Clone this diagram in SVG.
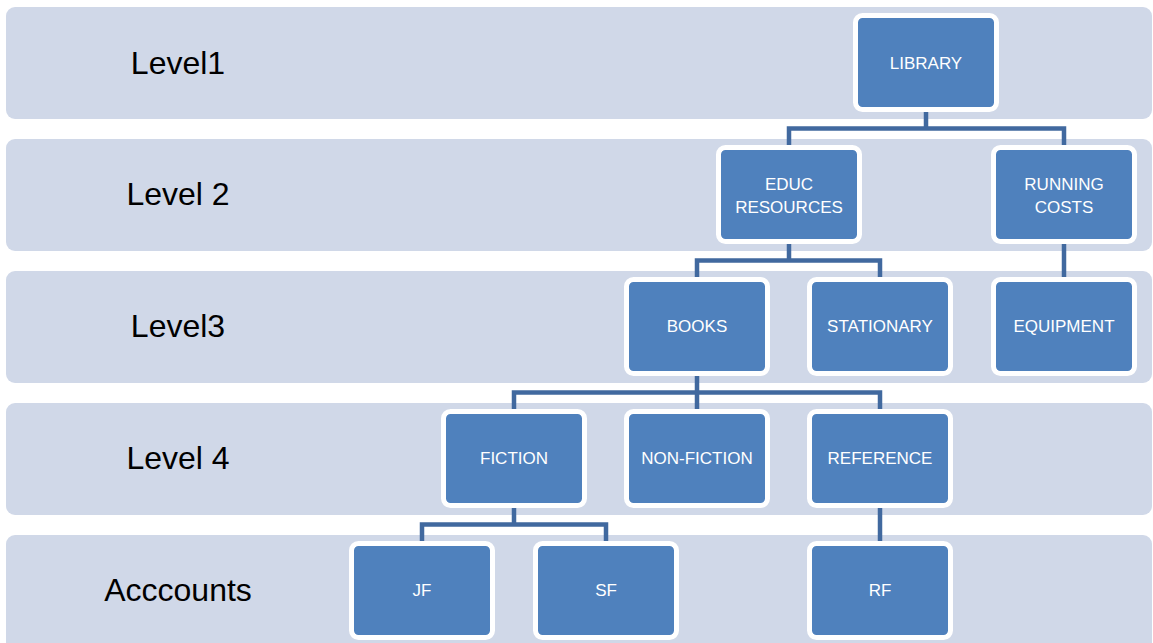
<svg xmlns="http://www.w3.org/2000/svg" width="1153" height="643" viewBox="0 0 1153 643">
<style>
.band{fill:#d0d8e8}
.lvl{font-family:"Liberation Sans",Arial,sans-serif;font-size:32px;fill:#000;text-anchor:middle}
.node rect{fill:#4f81bd;stroke:#fff;stroke-width:5}
.node text{font-family:"Liberation Sans",Arial,sans-serif;font-size:17px;fill:#fff;text-anchor:middle}
.conn{fill:none;stroke:#41699f;stroke-width:4.5;stroke-linejoin:miter;stroke-linecap:butt}
</style>
<rect width="1153" height="643" fill="#fff"/>
<g id="bands">
<rect class="band" x="6" y="7" width="1146" height="112" rx="9"/>
<rect class="band" x="6" y="139" width="1146" height="112" rx="9"/>
<rect class="band" x="6" y="271" width="1146" height="112" rx="9"/>
<rect class="band" x="6" y="403" width="1146" height="112" rx="9"/>
<rect class="band" x="6" y="535" width="1146" height="118" rx="9"/>
<text class="lvl" x="178" y="74">Level1</text>
<text class="lvl" x="178" y="205">Level 2</text>
<text class="lvl" x="178" y="337">Level3</text>
<text class="lvl" x="178" y="469">Level 4</text>
<text class="lvl" x="178" y="601">Acccounts</text>
</g>
<g id="connectors">
<path class="conn" d="M926 112V128.5M789 145V128.5H1064V145"/>
<path class="conn" d="M789 244V260.5M697 277V260.5H880V277"/>
<path class="conn" d="M1064 244V277"/>
<path class="conn" d="M697 376V409M514 409V392.5H880V409"/>
<path class="conn" d="M514 508V524.5M422 541V524.5H606V541"/>
<path class="conn" d="M880 508V541"/>
</g>
<g id="library" class="node"><rect x="855.5" y="15.5" width="141" height="94" rx="7"/><text x="926" y="69">LIBRARY</text></g>
<g id="educ" class="node"><rect x="718.5" y="147.5" width="141" height="94" rx="7"/><text x="789" y="190">EDUC</text><text x="789" y="213">RESOURCES</text></g>
<g id="running" class="node"><rect x="993.5" y="147.5" width="141" height="94" rx="7"/><text x="1064" y="190">RUNNING</text><text x="1064" y="213">COSTS</text></g>
<g id="books" class="node"><rect x="626.5" y="279.5" width="141" height="94" rx="7"/><text x="697" y="332">BOOKS</text></g>
<g id="stationary" class="node"><rect x="809.5" y="279.5" width="141" height="94" rx="7"/><text x="880" y="332">STATIONARY</text></g>
<g id="equipment" class="node"><rect x="993.5" y="279.5" width="141" height="94" rx="7"/><text x="1064" y="332">EQUIPMENT</text></g>
<g id="fiction" class="node"><rect x="443.5" y="411.5" width="141" height="94" rx="7"/><text x="514" y="464">FICTION</text></g>
<g id="nonfiction" class="node"><rect x="626.5" y="411.5" width="141" height="94" rx="7"/><text x="697" y="464">NON-FICTION</text></g>
<g id="reference" class="node"><rect x="809.5" y="411.5" width="141" height="94" rx="7"/><text x="880" y="464">REFERENCE</text></g>
<g id="jf" class="node"><rect x="351.5" y="543.5" width="141" height="94" rx="7"/><text x="422" y="596">JF</text></g>
<g id="sf" class="node"><rect x="535.5" y="543.5" width="141" height="94" rx="7"/><text x="606" y="596">SF</text></g>
<g id="rf" class="node"><rect x="809.5" y="543.5" width="141" height="94" rx="7"/><text x="880" y="596">RF</text></g>
</svg>
